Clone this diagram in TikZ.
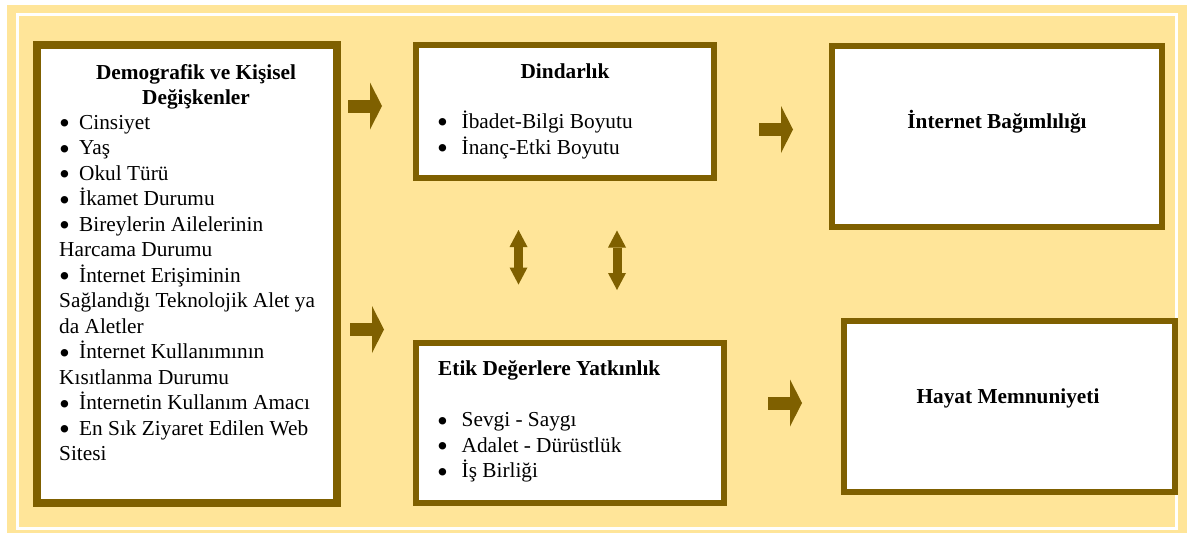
\documentclass[tikz,border=0pt]{standalone}
\usepackage{fontspec}
\setmainfont{Liberation Serif}
\usetikzlibrary{arrows.meta}
\definecolor{lightgold}{RGB}{255,229,153}
\definecolor{darkgold}{RGB}{127,96,0}
\newcommand{\listdot}[1]{\makebox[#1][l]{\smash{\raisebox{-4.2pt}{\fontsize{31}{31}\selectfont •}}}}
\tikzset{
  box/.style={draw=darkgold, line width=6pt, fill=white, inner sep=0pt},
  txt/.style={inner sep=0pt, font=\fontsize{21.3}{25.5}\selectfont},
  hdr/.style={inner sep=0pt, font=\fontsize{21.3}{25.5}\selectfont\bfseries},
  flowarrow/.style={darkgold, line width=13pt, -{Triangle[length=12pt,width=47pt,line width=0pt]}},
  linkarrow/.style={darkgold, line width=9pt, {Triangle[length=17pt,width=18pt,line width=0pt]}-{Triangle[length=17pt,width=18pt,line width=0pt]}},
}
\begin{document}
\begin{tikzpicture}[x=1pt,y=1pt,yscale=-1,xscale=1]
\useasboundingbox (0,0) rectangle (1192,533);

%Shape: Rectangle (background)
\fill [lightgold] (7,5) rectangle (1187,533);
\draw [white, line width=3pt] (17.5,14.5) rectangle (1176.5,528);

%Shape: Rectangle (boxes)
\node [box, line width=8pt, minimum width=300pt, minimum height=458pt] (demo) at (187,274) {};
\node [box, minimum width=298pt, minimum height=133pt] (dindar) at (565,111.5) {};
\node [box, minimum width=308pt, minimum height=160pt] (etik) at (570,422.5) {};
\node [box, minimum width=330pt, minimum height=181.5pt] (bagim) at (997,136.25) {};
\node [box, minimum width=330.5pt, minimum height=170.5pt] (hayat) at (1009.25,406.25) {};

%Text Node (left box)
\node [hdr, align=center, anchor=north] (demotitle) at (196,64.3) {Demografik ve Kişisel\\Değişkenler};
\node [txt, align=left, anchor=north west] (demolist) at (59,115) {%
\listdot{20pt}Cinsiyet\\
\listdot{20pt}Yaş\\
\listdot{20pt}Okul Türü\\
\listdot{20pt}İkamet Durumu\\
\listdot{20pt}Bireylerin Ailelerinin\\
Harcama Durumu\\
\listdot{20pt}İnternet Erişiminin\\
Sağlandığı Teknolojik Alet ya\\
da Aletler\\
\listdot{20pt}İnternet Kullanımının\\
Kısıtlanma Durumu\\
\listdot{20pt}İnternetin Kullanım Amacı\\
\listdot{20pt}En Sık Ziyaret Edilen Web\\
Sitesi};

%Text Node (middle boxes)
\node [hdr, anchor=base] (dindartitle) at (565,78) {Dindarlık};
\node [txt, align=left, anchor=north west] (dindarlist) at (437,110.8) {%
\listdot{24.5pt}İbadet-Bilgi Boyutu\\
\listdot{24.5pt}İnanç-Etki Boyutu};
\node [hdr, anchor=base west] (etiktitle) at (438,375) {Etik Değerlere Yatkınlık};
\node [txt, align=left, anchor=north west] (etiklist) at (437,412.5) {%
\listdot{24.5pt}Sevgi - Saygı\\
\listdot{24.5pt}Adalet - Dürüstlük\\
\listdot{24.5pt}İş Birliği};

%Text Node (right boxes)
\node [hdr, anchor=base] (bagimtitle) at (997,128.5) {İnternet Bağımlılığı};
\node [hdr, anchor=base] (hayattitle) at (1008,403.5) {Hayat Memnuniyeti};

%Block Arrows
\coordinate (a1s) at (348,106);   \coordinate (a1e) at (382,106);
\coordinate (a2s) at (350,329.5); \coordinate (a2e) at (384,329.5);
\coordinate (a3s) at (759,129.5); \coordinate (a3e) at (793,129.5);
\coordinate (a4s) at (768,403);   \coordinate (a4e) at (802,403);
\draw [flowarrow] (a1s) -- (a1e);
\draw [flowarrow] (a2s) -- (a2e);
\draw [flowarrow] (a3s) -- (a3e);
\draw [flowarrow] (a4s) -- (a4e);

%Double Arrows
\coordinate (d1s) at (518.5,230); \coordinate (d1e) at (518.5,284.5);
\coordinate (d2s) at (617,230.5); \coordinate (d2e) at (617,290);
\draw [linkarrow] (d1s) -- (d1e);
\draw [linkarrow] (d2s) -- (d2e);
\end{tikzpicture}
\end{document}
